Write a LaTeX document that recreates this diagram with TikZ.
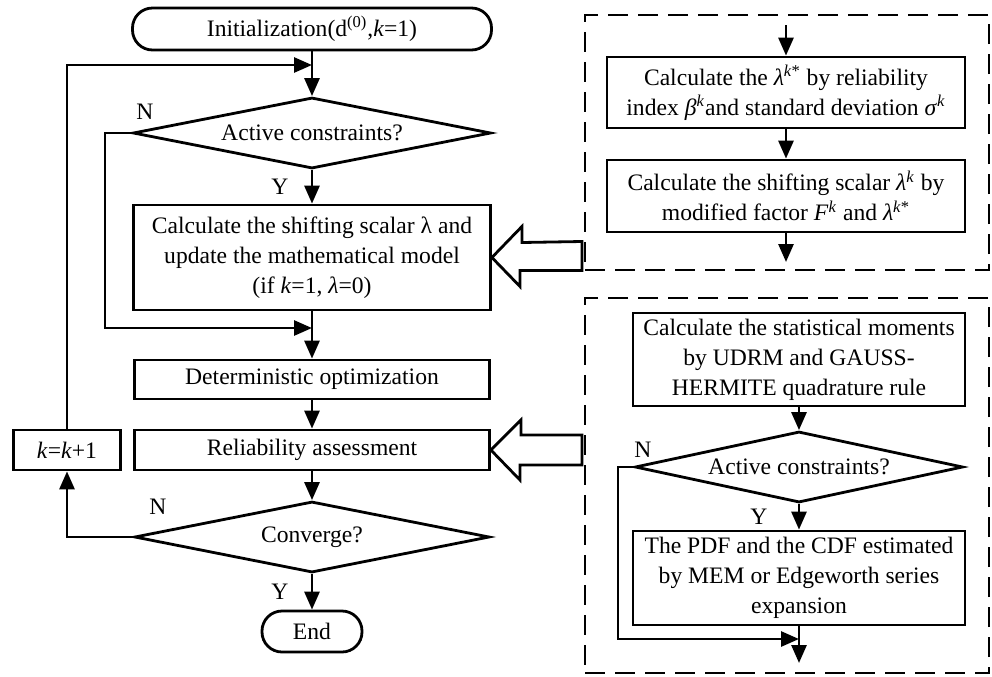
\documentclass[tikz,border=0pt]{standalone}
\usepackage{fontspec}
\setmainfont{Liberation Serif}
\usetikzlibrary{arrows.meta,shapes.geometric}
\tikzset{
  procbox/.style={draw, line width=1.4pt, align=center, inner sep=1pt, font=\fontsize{11.8}{15}\selectfont},
  termbox/.style={procbox, rounded corners=10pt},
  decbox/.style={draw, diamond, aspect=5, inner sep=0pt, line width=1.4pt, font=\fontsize{11.8}{15}\selectfont},
  flow/.style={-{Triangle[length=9pt,width=7.5pt]}, line width=1.4pt},
  frame/.style={draw, line width=1.4pt, dash pattern=on 10pt off 5pt, inner sep=0pt},
  yn/.style={inner sep=0pt, font=\fontsize{11.8}{15}\selectfont}
}
\newcommand{\kk}{\textit{k}}
\begin{document}
\begin{tikzpicture}[x=0.5pt,y=-0.5pt]
    \useasboundingbox (0,0) rectangle (992,676);
    %Main loop
    \node[termbox, minimum width=179.5pt, minimum height=21pt] (init) at (312,29) {Initialization(d\textsuperscript{(0)},\kk=1)};
    \node[decbox, minimum width=179pt, minimum height=35.5pt] (act) at (312,133) {Active constraints?};
    \node[procbox, minimum width=178.5pt, minimum height=52.5pt] (shift) at (312,257.5) {Calculate the shifting scalar λ and\\update the mathematical model\\(if \kk=1, \textit{λ}=0)};
    \node[procbox, minimum width=177.5pt, minimum height=19.5pt] (det) at (312,379.5) {Deterministic optimization};
    \node[procbox, minimum width=177.5pt, minimum height=20pt] (rel) at (312,450) {Reliability assessment};
    \node[decbox, minimum width=177.5pt, minimum height=35.5pt] (conv) at (312,537) {Converge?};
    \node[termbox, minimum width=50pt, minimum height=20.5pt] (stop) at (312,631.5) {End};
    \node[procbox, minimum width=53.5pt, minimum height=20pt] (incr) at (67,450) {\kk=\kk+1};
    \coordinate (back) at (312,65);
    \coordinate (skip) at (312,328);
    \draw[flow] (init) -- (act);
    \draw[flow] (act) -- (shift) node[yn, pos=0.5, xshift=-16pt]{Y};
    \draw[flow] (shift) -- (det);
    \draw[flow] (act.west) -- (105,133) |- (skip);
    \node[yn] (n1) at (145,112) {N};
    \draw[flow] (det) -- (rel);
    \draw[flow] (rel) -- (conv);
    \draw[flow] (conv) -- (stop) node[yn, pos=0.5, xshift=-16pt]{Y};
    \node[yn] (n2) at (158,507) {N};
    \draw[flow] (conv.west) -| (incr.south);
    \draw[flow] (incr.north) |- (back);
    %Shifting scalar frame
    \node[frame, minimum width=202pt, minimum height=127.5pt] (topframe) at (787,142.5) {};
    \node[procbox, minimum width=179pt, minimum height=35.5pt] (lamstar) at (786,92.5) {Calculate the \textit{λ}\textsuperscript{\kk*} by reliability\\index \textit{β}\textsuperscript{\kk}and standard deviation \textit{σ}\textsuperscript{\kk}};
    \node[procbox, minimum width=179pt, minimum height=36pt] (lamk) at (786,196) {Calculate the shifting scalar \textit{λ}\textsuperscript{\kk} by\\modified factor \textit{F}\textsuperscript{\kk} and \textit{λ}\textsuperscript{\kk*}};
    \coordinate (tin) at (786,25);
    \coordinate (tout) at (786,262);
    \draw[flow] (tin) -- (lamstar);
    \draw[flow] (lamstar) -- (lamk);
    \draw[flow] (lamk) -- (tout);
    %Reliability frame
    \node[frame, minimum width=202pt, minimum height=187.5pt] (botframe) at (787,485.5) {};
    \node[procbox, minimum width=166pt, minimum height=46.5pt] (mom) at (799,359.5) {Calculate the statistical moments\\by UDRM and GAUSS-\\HERMITE quadrature rule};
    \node[decbox, minimum width=164pt, minimum height=35.5pt] (act2) at (799,467) {Active constraints?};
    \node[procbox, minimum width=166pt, minimum height=47pt] (pdf) at (799,578) {The PDF and the CDF estimated\\by MEM or Edgeworth series\\expansion};
    \coordinate (join) at (799,639);
    \coordinate (bout) at (799,663);
    \draw[flow] (mom) -- (act2);
    \draw[flow] (act2) -- (pdf) node[yn, pos=0.5, xshift=-20pt]{Y};
    \node[yn] (n3) at (643,450) {N};
    \draw[flow] (act2.west) -- (618,467) |- (join);
    \draw[flow] (pdf) -- (bout);
    %Hollow arrows
    \draw[line width=1.4pt, line join=miter] (shift.east) -- ++(30,-31) -- ++(0,16) -- (582,241.5) -- ++(0,29) -- ++(-62,0) -- ++(0,16) -- cycle;
    \draw[line width=1.4pt, line join=miter] (rel.east) -- ++(30,-30) -- ++(0,15) -- (582,435) -- ++(0,30) -- ++(-62,0) -- ++(0,15) -- cycle;
\end{tikzpicture}
\end{document}
